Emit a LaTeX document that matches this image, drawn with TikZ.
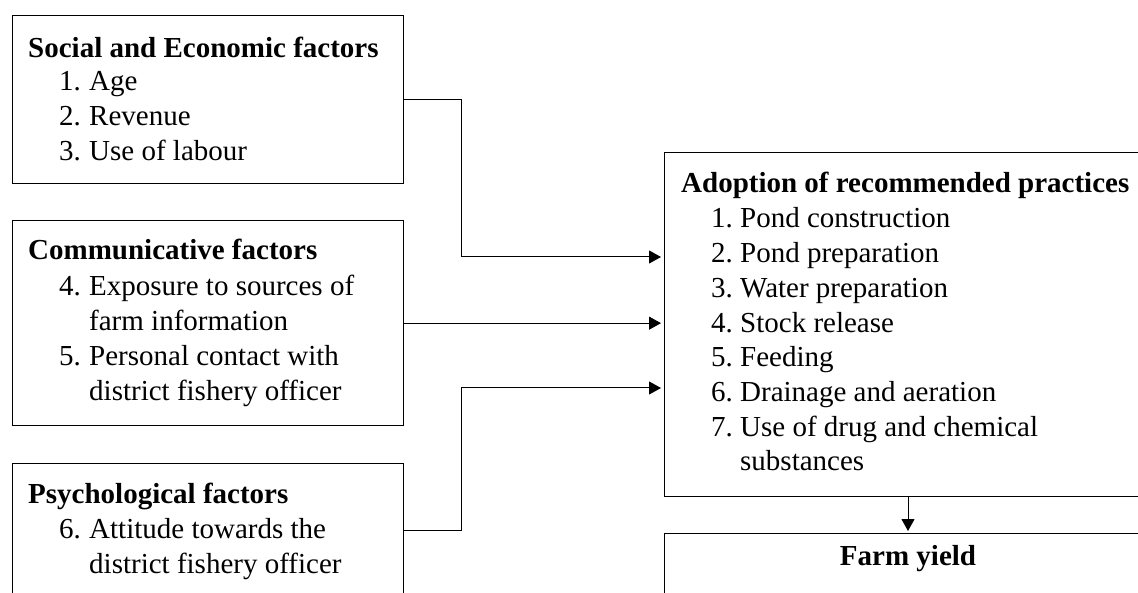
\documentclass[tikz,border=0pt]{standalone}
\usepackage{fontspec}
\setmainfont{Liberation Serif}
\usetikzlibrary{arrows.meta}
\tikzset{
  box/.style={draw, line width=1.3pt, rectangle, inner sep=0pt, anchor=north west},
  txt/.style={anchor=base west, inner sep=0pt, font=\fontsize{29}{35}\selectfont},
  hd/.style={txt, font=\fontsize{29}{35}\selectfont\bfseries},
  conn/.style={line width=1pt, -{Triangle[length=12pt,width=13pt]}, shorten >=3pt},
  plain/.style={line width=1pt}
}
\begin{document}
\begin{tikzpicture}[x=1pt,y=-1pt]
\useasboundingbox (0,0) rectangle (1138,593);
\clip (0,0) rectangle (1138,593);
% boxes
\node[box, minimum width=391pt, minimum height=168pt] (se) at (12,15) {};
\node[box, minimum width=391pt, minimum height=205pt] (comm) at (12,220) {};
\node[box, minimum width=391pt, minimum height=134pt] (psy) at (12,463) {};
\node[box, minimum width=488pt, minimum height=344pt] (adopt) at (664,152) {};
\node[box, minimum width=488pt, minimum height=80pt] (farm) at (664,533) {};
% box 1 text
\node[hd] (h1) at (28,58) {Social and Economic factors};
\node[txt] (n1) at (59,91) {1.}; \node[txt] (i1) at (89,91) {Age};
\node[txt] (n2) at (59,126) {2.}; \node[txt] (i2) at (89,126) {Revenue};
\node[txt] (n3) at (59,161) {3.}; \node[txt] (i3) at (89,161) {Use of labour};
% box 2 text
\node[hd] (h2) at (28,260) {Communicative factors};
\node[txt] (n4) at (59,296) {4.}; \node[txt] (i4) at (89,296) {Exposure to sources of};
\node[txt] (i4b) at (89,331) {farm information};
\node[txt] (n5) at (59,366) {5.}; \node[txt] (i5) at (89,366) {Personal contact with};
\node[txt] (i5b) at (89,401) {district fishery officer};
% box 3 text
\node[hd] (h3) at (28,503) {Psychological factors};
\node[txt] (n6) at (59,538) {6.}; \node[txt] (i6) at (89,538) {Attitude towards the};
\node[txt] (i6b) at (89,573) {district fishery officer};
% adoption text
\node[hd] (h4) at (681,193) {Adoption of recommended practices};
\node[txt] (p1n) at (711,228) {1.}; \node[txt] (p1) at (740,228) {Pond construction};
\node[txt] (p2n) at (711,263) {2.}; \node[txt] (p2) at (740,263) {Pond preparation};
\node[txt] (p3n) at (711,298) {3.}; \node[txt] (p3) at (740,298) {Water preparation};
\node[txt] (p4n) at (711,333) {4.}; \node[txt] (p4) at (740,333) {Stock release};
\node[txt] (p5n) at (711,367) {5.}; \node[txt] (p5) at (740,367) {Feeding};
\node[txt] (p6n) at (711,402) {6.}; \node[txt] (p6) at (740,402) {Drainage and aeration};
\node[txt] (p7n) at (711,436) {7.}; \node[txt] (p7) at (740,436) {Use of drug and chemical};
\node[txt] (p7b) at (740,470) {substances};
% farm yield
\node[hd, anchor=base] (fy) at (908,565) {Farm yield};
% connectors
\coordinate (j1) at (461,257);
\coordinate (j2) at (461,323);
\coordinate (j3) at (461,388);
\draw[conn] (se.east) -| (j1) -- (j1 -| adopt.west);
\draw[conn] (comm.east) -- (comm.east -| adopt.west);
\draw[conn] (psy.east) -| (j3) -- (j3 -| adopt.west);
\draw[conn, shorten >=2pt] (908,496) -- (908,533);
\end{tikzpicture}
\end{document}
